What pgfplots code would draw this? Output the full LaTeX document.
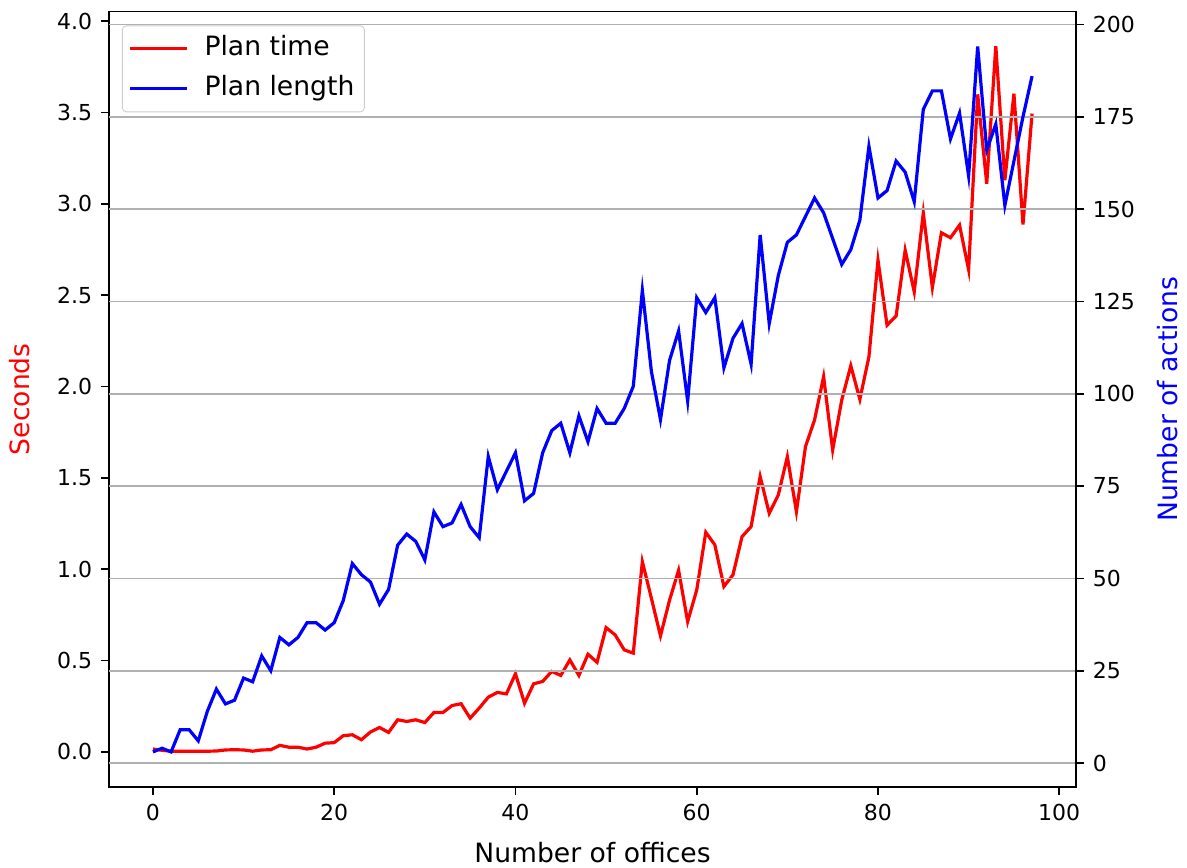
\documentclass[border=0pt]{standalone}
\usepackage{fontspec}
\setmainfont{DejaVu Sans}
\usepackage{pgfplots}
\usepackage{pgfplotstable}
\pgfplotsset{compat=1.18}

\pgfplotstableread{
x t a
0 0.015 3
1 0.008 4
2 0.003 3
3 0.003 9
4 0.003 9
5 0.003 6
6 0.003 14
7 0.004 20
8 0.010 16
9 0.011 17
10 0.010 23
11 0.003 22
12 0.010 29
13 0.011 25
14 0.035 34
15 0.025 32
16 0.025 34
17 0.015 38
18 0.025 38
19 0.047 36
20 0.050 38
21 0.088 44
22 0.093 54
23 0.066 51
24 0.108 49
25 0.133 43
26 0.106 47
27 0.175 59
28 0.166 62
29 0.175 60
30 0.160 55
31 0.215 68
32 0.215 64
33 0.253 65
34 0.263 70
35 0.184 64
36 0.239 61
37 0.299 83
38 0.325 74
39 0.317 79
40 0.427 84
41 0.266 71
42 0.372 73
43 0.385 84
44 0.440 90
45 0.418 92
46 0.503 84
47 0.418 94
48 0.534 87
49 0.490 96
50 0.680 92
51 0.640 92
52 0.558 96
53 0.540 102
54 1.041 128
55 0.840 106
56 0.635 93
57 0.830 109
58 0.994 117
59 0.713 98
60 0.886 126
61 1.202 122
62 1.133 126
63 0.905 107
64 0.969 115
65 1.178 119
66 1.233 108
67 1.507 143
68 1.306 119
69 1.406 132
70 1.616 141
71 1.315 143
72 1.671 148
73 1.817 153
74 2.054 149
75 1.653 142
76 1.926 135
77 2.114 139
78 1.930 147
79 2.163 167
80 2.692 153
81 2.336 155
82 2.386 163
83 2.747 160
84 2.519 152
85 2.951 177
86 2.543 182
87 2.842 182
88 2.815 169
89 2.884 176
90 2.640 159
91 3.600 194
92 3.111 166
93 3.864 173
94 3.130 151
95 3.604 163
96 2.887 175
97 3.495 186
}\datatable

\pgfplotsset{
  /pgf/number format/assume math mode=true,
  every tick label/.append style={font=\fontsize{11}{13}\selectfont},
  tick align=outside,
  major tick length=3.8pt,
  tick style={black, line width=0.85pt},
  axis line style={line width=0.85pt},
}

\begin{document}
\fontsize{13.3}{16}\selectfont
\begin{tikzpicture}
\begin{axis}[
  at={(0,0)}, anchor=south west,
  scale only axis, width=483.5pt, height=387.75pt,
  xmin=-4.85, xmax=101.85, ymin=-0.193, ymax=4.054,
  xtick={0,20,40,60,80,100},
  ytick={0,0.5,1,1.5,2,2.5,3,3.5,4},
  yticklabel style={/pgf/number format/.cd, fixed, fixed zerofill, precision=1},
  xtick pos=bottom, ytick pos=left,
  every axis x label/.style={at={(axis description cs:0.5,-0.085)}, anchor=center, font=\fontsize{13.3}{16}\selectfont},
  every axis y label/.style={at={(axis description cs:-0.092,0.5)}, rotate=90, anchor=center, font=\fontsize{13.3}{16}\selectfont},
  xlabel={Number of offices},
  ylabel={\textcolor{red}{Seconds}},
]
\addplot[red, line width=1.6pt] table[x=x, y=t] {\datatable};
\end{axis}
\begin{axis}[
  at={(0,0)}, anchor=south west,
  scale only axis, width=483.5pt, height=387.75pt,
  xmin=-4.85, xmax=101.85, ymin=-6.5, ymax=203.5,
  axis x line=none, axis y line*=right,
  ytick={0,25,50,75,100,125,150,175,200},
  ymajorgrids,
  major grid style={color=black!31, line width=0.85pt},
  every axis y label/.style={at={(axis description cs:1.095,0.5)}, rotate=90, anchor=center, font=\fontsize{13.3}{16}\selectfont},
  ylabel={\textcolor{blue}{Number of actions}},
  legend cell align=left,
  legend image code/.code={\draw[#1] (0pt,0pt) -- (28.5pt,0pt); \path (34.5pt,0pt);},
  legend style={at={(axis description cs:0.0134,0.982)}, anchor=north west,
    draw=black!20, rounded corners=2pt, fill=white, fill opacity=0.8, text opacity=1,
    font=\fontsize{13.3}{16}\selectfont, inner xsep=3pt, inner ysep=3pt, row sep=3pt,
    nodes={inner sep=2pt, text height=10pt, text depth=3pt}},
]
\addlegendimage{red, line width=1.6pt}
\addlegendentry{Plan time}
\addplot[blue, line width=1.6pt] table[x=x, y=a] {\datatable};
\addlegendentry{Plan length}
\end{axis}
\pgfresetboundingbox
\useasboundingbox (-54.5pt,-40pt) rectangle (539pt,393.5pt);
\end{tikzpicture}
\end{document}
